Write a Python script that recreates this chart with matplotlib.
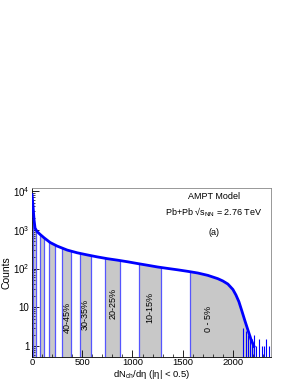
import numpy as np
import matplotlib.pyplot as plt
from matplotlib.ticker import FixedLocator, LogLocator, MultipleLocator, FuncFormatter

plt.rcParams['font.family'] = ['Liberation Sans', 'DejaVu Sans']
plt.rcParams['mathtext.fontset'] = 'custom'
plt.rcParams['mathtext.rm'] = 'Liberation Sans'
plt.rcParams['mathtext.it'] = 'Liberation Sans'

# multiplicity distribution
dndeta = [0, 10, 20, 30, 50, 80, 120, 180, 250, 350, 450, 550, 650, 750, 850,
          950, 1050, 1150, 1250, 1350, 1450, 1550, 1650, 1750, 1850, 1900,
          1950, 2000, 2030, 2060, 2090, 2120, 2150, 2180, 2210]
counts = [8000, 4000, 1800, 1100, 900, 760, 620, 470, 380, 300, 255, 225, 200,
          180, 165, 150, 135, 122, 110, 101, 93, 85, 77, 67, 55, 48, 40, 29,
          21, 14, 8, 4.5, 2.6, 1.5, 1.0]

# sparse tail bins
tail_x = [2100, 2130, 2150, 2170, 2190, 2210, 2230, 2260, 2290, 2310, 2330, 2360]
tail_counts = [3, 2.5, 2, 2, 1.5, 2, 1, 1.5, 1, 1, 1.5, 1]

# centrality bin edges (dNch/deta)
edges = [13, 40, 80, 123, 173, 230, 303, 390, 480, 587, 730, 880, 1063, 1287, 1573, 2210]
shaded = [(13, 40), (80, 123), (173, 230), (303, 390), (480, 587),
          (730, 880), (1063, 1287), (1573, 2210)]
cent_labels = ['40-45%', '30-35%', '20-25%', '10-15%', '0 - 5%']
cent_bins = [(303, 390), (480, 587), (730, 880), (1063, 1287), (1573, 1950)]
label_y = [5.4, 6.5, 13, 10.3, 5.1]

fig = plt.figure(figsize=(2.94, 3.81), dpi=100)
ax = fig.add_axes([0.109, 0.063, 0.813, 0.444])
ax.set_yscale('log')
ymin, ymax = 0.53, 1.2e4
ax.set_xlim(0, 2380)
ax.set_ylim(ymin, ymax)

lx = np.array(dndeta, float)
ly = np.log(np.array(counts, float))
for lo, hi in shaded:
    xs = np.linspace(lo, hi, 60)
    ax.fill_between(xs, ymin, np.exp(np.interp(xs, lx, ly)), color='#c8c8c8', lw=0, zorder=1)
for e in edges:
    ax.vlines(e, ymin, np.exp(np.interp(e, lx, ly)), color='#5555ff', lw=0.9, zorder=2)

ax.vlines(tail_x, ymin, tail_counts, color='#0000ff', lw=0.8, zorder=3)
ax.plot(dndeta, counts, color='#0000ff', lw=2.0, zorder=4)

for lab, (lo, hi), yy in zip(cent_labels, cent_bins, label_y):
    ax.text((lo + hi) / 2, yy, lab, rotation=90, ha='center', va='center', fontsize=6.5)

ax.text(0.76, 0.947, 'AMPT Model', transform=ax.transAxes, ha='center', va='center', fontsize=6.5)
ax.text(0.76, 0.858, 'Pb+Pb \u221as$_{\\rm NN}$ = 2.76 TeV', transform=ax.transAxes,
        ha='center', va='center', fontsize=6.5)
ax.text(0.76, 0.734, '(a)', transform=ax.transAxes, ha='center', va='center', fontsize=6.5)

ax.set_xlabel('dN$_{\\rm ch}$/d\u03b7 (|\u03b7| < 0.5)', fontsize=6.8, va='center')
ax.xaxis.set_label_coords(0.5, -0.106)
ax.set_ylabel('Counts', fontsize=7.5, va='center')
ax.yaxis.set_label_coords(-0.105, 0.5)

ax.xaxis.set_major_locator(MultipleLocator(500))
ax.xaxis.set_minor_locator(MultipleLocator(100))
ax.yaxis.set_major_locator(FixedLocator([1, 10, 100, 1000, 10000]))
ax.yaxis.set_minor_locator(LogLocator(base=10, subs=np.arange(2, 10)))
ax.yaxis.set_major_formatter(FuncFormatter(
    lambda v, p: '1' if v == 1 else ('10' if v == 10 else r'$10^{%d}$' % round(np.log10(v)))))
ax.yaxis.set_minor_formatter(FuncFormatter(lambda v, p: ''))
ax.tick_params(which='both', direction='in', labelsize=7, pad=2)
ax.tick_params(axis='x', which='both', pad=1, labelsize=6.8)
ax.tick_params(which='major', length=5, width=0.6)
ax.tick_params(which='minor', length=2.5, width=0.5)
for s in ax.spines.values():
    s.set_linewidth(0.6)
ax.spines['top'].set_color('#888888')
ax.spines['right'].set_color('#888888')

fig.savefig('out.png', dpi=100)
